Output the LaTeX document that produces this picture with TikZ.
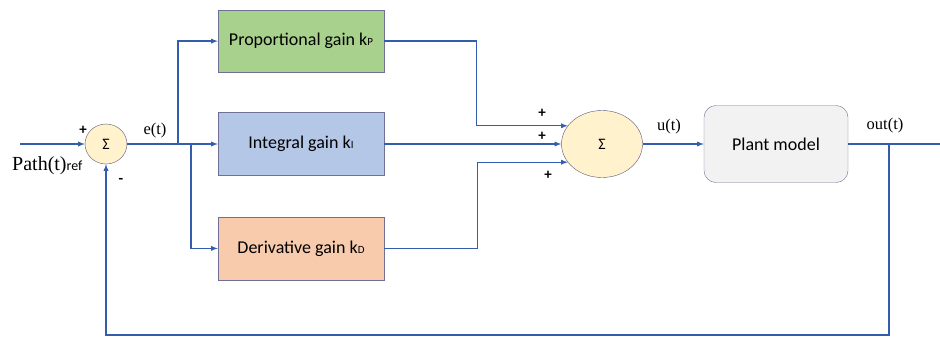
\documentclass[tikz,border=0pt]{standalone}
\usepackage{fontspec}
\usepackage{tikz}
\newfontfamily\calibri{Carlito}
\newfontfamily\cambria{Liberation Serif}
\usetikzlibrary{positioning}
\usetikzlibrary{shapes.geometric}
\definecolor{wire}{RGB}{52,94,172}
\definecolor{frame}{RGB}{112,112,150}
\definecolor{sumfill}{RGB}{255,242,204}
\definecolor{pfill}{RGB}{169,209,142}
\definecolor{ifill}{RGB}{180,199,231}
\definecolor{dfill}{RGB}{248,203,173}
\definecolor{plantfill}{RGB}{242,242,242}

\begin{document}
\begin{tikzpicture}[x=1pt, y=-1pt,
sumnode/.style={ellipse, draw=frame!80!black, fill=sumfill, inner sep=0pt, font=\calibri\fontsize{16}{16}\selectfont},
gainnode/.style={rectangle, draw=frame, fill=#1, minimum width=166pt, minimum height=63pt, font=\calibri\fontsize{18}{18}\selectfont},
plantnode/.style={rectangle, rounded corners=12pt, draw=frame, fill=plantfill, minimum width=144pt, minimum height=77pt, font=\calibri\fontsize{18}{18}\selectfont},
signal/.style={font=\cambria\fontsize{16.5}{16.5}\selectfont},
sign/.style={font=\calibri\bfseries\fontsize{15}{15}\selectfont, inner sep=0pt},
wire/.style={draw=wire, line width=1.3pt},
]
\useasboundingbox (0,0) rectangle (940,338);

%Nodes
\node[sumnode, minimum width=42pt, minimum height=40pt] (s1) at (106,144) {Σ};
\node[gainnode=ifill] (ki) at (301,144) {Integral gain k{\fontsize{11}{11}\selectfont I}};
\node[gainnode=pfill, minimum height=62pt] (kp) [above=40pt of ki] {Proportional gain k{\fontsize{11}{11}\selectfont P}};
\node[gainnode=dfill] (kd) [below=41pt of ki] {Derivative gain k{\fontsize{11}{11}\selectfont D}};
\node[sumnode, minimum width=81pt, minimum height=67pt] (s2) at (602,144) {Σ};
\node[plantnode] (plant) at (776,144) {Plant model};

%Labels
\node[anchor=base west, inner sep=0pt, font=\cambria\fontsize{20}{20}\selectfont] (ref) at (12,170) {Path(t){\calibri\fontsize{14}{14}\selectfont ref}};
\node[signal] (e) at (155,131) {e(t)};
\node[signal] (u) at (669,127) {u(t)};
\node[signal] (out) at (885,126) {out(t)};
\node[sign] (p1) at (83,130) {+};
\node[sign] (m1) at (121,181) {-};
\node[sign] (p2) at (542,113) {+};
\node[sign] (p3) at (542,136) {+};
\node[sign] (p4) at (548,175) {+};

%Points
\coordinate (in) at (20,144);
\coordinate (b1) at (178,144);
\coordinate (b2) at (191,144);
\coordinate (b3) at (889,144);
\coordinate (end) at (940,144);

%Lines
\draw[wire, -latex] (in) -- (s1.west);
\draw[wire, -latex] (s1.east) -- (ki.west);
\draw[wire, -latex] (b1) |- (kp.west);
\draw[wire, -latex] (b2) |- (kd.west);
\draw[wire, -latex] (kp.east) -- ++(92,0) |- (s2.152);
\draw[wire, -latex] (ki.east) -- (s2.west);
\draw[wire, -latex] (kd.east) -- ++(93,0) |- (s2.208);
\draw[wire, -latex] (s2.east) -- (plant.west);
\draw[wire] (plant.east) -- (end);
\draw[wire, -latex] (b3) -- ++(0,191) -| (s1.south);
\end{tikzpicture}
\end{document}
